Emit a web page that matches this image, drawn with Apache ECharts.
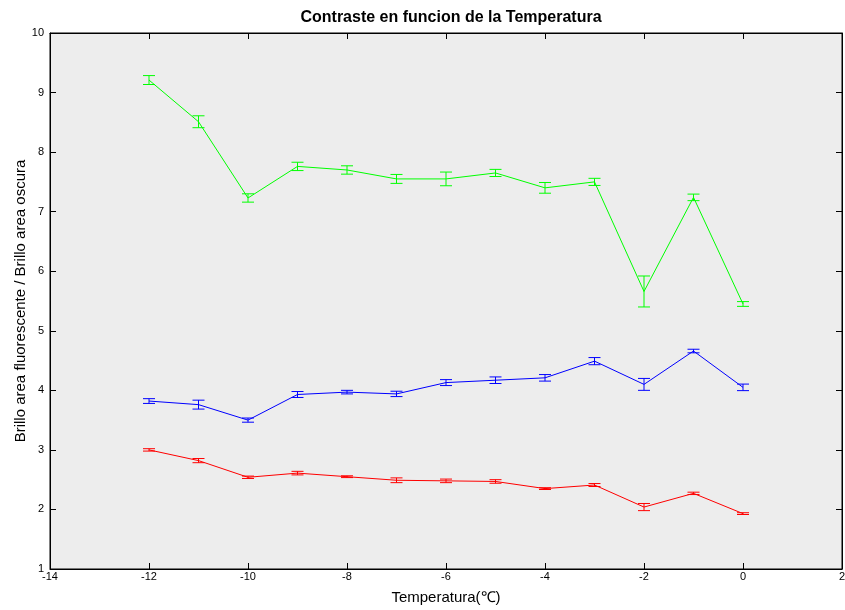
<!DOCTYPE html>
<html><head><meta charset="utf-8">
<script src="https://cdn.jsdelivr.net/npm/echarts@6/dist/echarts.min.js"></script>
<style>html,body{margin:0;padding:0;background:#fff}#c{width:845px;height:610px}</style>
</head><body><div id="c"></div>
<script>
const temps = [-12, -11, -10, -9, -8, -7, -6, -5, -4, -3, -2, -1, 0];
const greenVals = [9.21, 8.51, 7.23, 7.76, 7.70, 7.55, 7.55, 7.65, 7.40, 7.50, 5.66, 7.24, 5.45];
const greenErr  = [0.075, 0.10, 0.07, 0.07, 0.07, 0.075, 0.115, 0.06, 0.09, 0.06, 0.26, 0.055, 0.04];
const blueVals  = [3.82, 3.76, 3.50, 3.93, 3.97, 3.94, 4.13, 4.17, 4.21, 4.49, 4.10, 4.66, 4.05];
const blueErr   = [0.04, 0.075, 0.035, 0.05, 0.03, 0.045, 0.05, 0.055, 0.055, 0.06, 0.10, 0.03, 0.055];
const redVals   = [3.00, 2.82, 2.54, 2.61, 2.55, 2.49, 2.48, 2.47, 2.35, 2.41, 2.04, 2.27, 1.93];
const redErr    = [0.02, 0.035, 0.02, 0.03, 0.015, 0.04, 0.03, 0.03, 0.015, 0.025, 0.06, 0.02, 0.015];
const xTicks = [-14, -12, -10, -8, -6, -4, -2, 0, 2];
const yTicks = [1, 2, 3, 4, 5, 6, 7, 8, 9, 10];

const FONT = 'Liberation Sans';
function lineSeries(vals, color) {
  return {type: 'line', data: temps.map((t, i) => [t, vals[i]]), showSymbol: false,
    lineStyle: {color: color, width: 1}, itemStyle: {color: color}, z: 3, animation: false};
}
function errSeries(vals, errs, color) {
  return {type: 'custom', z: 4, animation: false,
    data: temps.map((t, i) => [t, vals[i] - errs[i], vals[i] + errs[i]]),
    renderItem: function (params, api) {
      const lo = api.coord([api.value(0), api.value(1)]);
      const hi = api.coord([api.value(0), api.value(2)]);
      const w = 6;
      const st = {stroke: color, lineWidth: 1};
      return {type: 'group', children: [
        {type: 'line', shape: {x1: lo[0], y1: lo[1], x2: hi[0], y2: hi[1]}, style: st},
        {type: 'line', shape: {x1: lo[0] - w, y1: lo[1], x2: lo[0] + w, y2: lo[1]}, style: st},
        {type: 'line', shape: {x1: hi[0] - w, y1: hi[1], x2: hi[0] + w, y2: hi[1]}, style: st}
      ]};
    }};
}
const axLine = {show: true, onZero: false, lineStyle: {color: '#000', width: 1}};
const tick = {show: true, inside: true, length: 6, lineStyle: {color: '#000'}};
const chart = echarts.init(document.getElementById('c'));
chart.setOption({
  animation: false,
  title: {text: 'Contraste en funcion de la Temperatura', left: 446, textAlign: 'center', top: 5,
    textStyle: {fontFamily: FONT, fontSize: 16, fontWeight: 'bold', color: '#000'}},
  grid: {left: 50, right: 3, top: 33, bottom: 41, outerBoundsMode: 'none', containLabel: false,
    show: true, backgroundColor: '#ededed', borderColor: '#000', borderWidth: 1},
  xAxis: [
    {type: 'value', min: xTicks[0], max: xTicks[xTicks.length - 1], interval: 2, position: 'bottom',
      axisLine: axLine, axisTick: tick, splitLine: {show: false},
      axisLabel: {fontFamily: FONT, fontSize: 11, color: '#000', margin: 2},
      name: 'Temperatura(℃)', nameLocation: 'middle', nameGap: 21, nameMoveOverlap: false,
      nameTextStyle: {fontFamily: FONT, fontSize: 15, color: '#000'}},
    {type: 'value', min: xTicks[0], max: xTicks[xTicks.length - 1], interval: 2, position: 'top',
      axisLine: axLine, axisTick: tick, splitLine: {show: false}, axisLabel: {show: false}}
  ],
  yAxis: [
    {type: 'value', min: yTicks[0], max: yTicks[yTicks.length - 1], interval: 1, position: 'left',
      axisLine: axLine, axisTick: tick, splitLine: {show: false},
      axisLabel: {fontFamily: FONT, fontSize: 11, color: '#000', margin: 6},
      name: 'Brillo area fluorescente / Brillo area oscura', nameLocation: 'middle', nameGap: 22, nameMoveOverlap: false,
      nameTextStyle: {fontFamily: FONT, fontSize: 15, color: '#000'}},
    {type: 'value', min: yTicks[0], max: yTicks[yTicks.length - 1], interval: 1, position: 'right',
      axisLine: axLine, axisTick: tick, splitLine: {show: false}, axisLabel: {show: false}}
  ],
  series: [
    lineSeries(greenVals, '#00ff00'), errSeries(greenVals, greenErr, '#00ff00'),
    lineSeries(blueVals, '#0000ff'), errSeries(blueVals, blueErr, '#0000ff'),
    lineSeries(redVals, '#ff0000'), errSeries(redVals, redErr, '#ff0000')
  ]
});
</script></body></html>
